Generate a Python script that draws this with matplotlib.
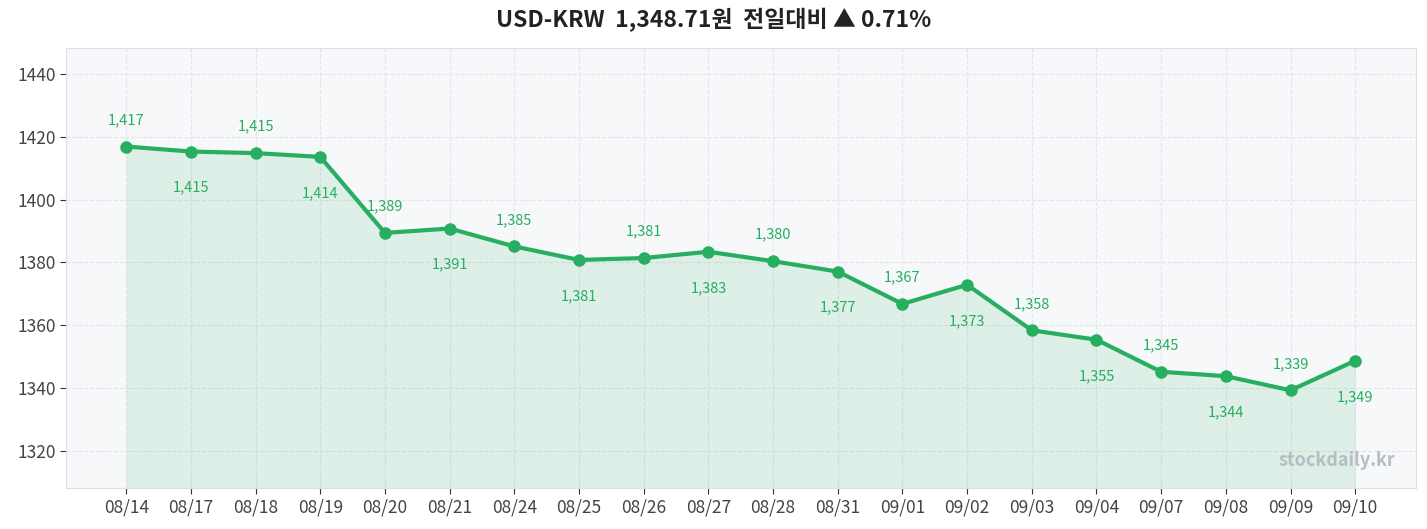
import numpy as np
import matplotlib.pyplot as plt

plt.rcParams['font.family'] = ['Noto Sans CJK KR', 'DejaVu Sans']

# 날짜 / 환율
dates = ['08/14', '08/17', '08/18', '08/19', '08/20', '08/21', '08/24', '08/25', '08/26', '08/27',
         '08/28', '08/31', '09/01', '09/02', '09/03', '09/04', '09/07', '09/08', '09/09', '09/10']
rates = [1416.9, 1415.3, 1414.8, 1413.6, 1389.4, 1390.8, 1385.1, 1380.8, 1381.4, 1383.4,
         1380.4, 1377.1, 1366.8, 1372.9, 1358.4, 1355.4, 1345.2, 1343.8, 1339.3, 1348.71]
yticks = [1320, 1340, 1360, 1380, 1400, 1420, 1440]

green = '#27ae60'
x = np.arange(len(dates))
ymin, ymax = 1308.2, 1448.3

fig = plt.figure(figsize=(14.27, 5.29), dpi=100)
ax = fig.add_axes([0.0463, 0.0775, 0.946, 0.832])
ax.set_facecolor('#f7f8fa')

ax.fill_between(x, rates, ymin, color=green, alpha=0.12, linewidth=0)
ax.plot(x, rates, color=green, linewidth=3, marker='o', markersize=8, zorder=3)

for i, v in enumerate(rates):
    dy = 19 if i % 2 == 0 else -26
    ax.annotate(f'{round(v):,}', (i, v), xytext=(0, dy), textcoords='offset points',
                ha='center', va='center', color=green, fontsize=10.5)

ax.set_xlim(-0.93, 19.94)
ax.set_ylim(ymin, ymax)
ax.set_xticks(x)
ax.set_xticklabels(dates)
ax.set_yticks(yticks)
ax.tick_params(labelsize=12.5, colors='#333333', labelcolor='#444444', length=4)
ax.grid(True, linestyle='--', color='#e3e5ea', linewidth=0.8)
ax.set_axisbelow(True)
for s in ax.spines.values():
    s.set_color('#dcdfe6')

ax.text(0.985, 0.04, 'stockdaily.kr', transform=ax.transAxes, ha='right', va='bottom',
        fontsize=13, color='#b8bcc4', fontweight='bold')

fig.suptitle('USD-KRW  1,348.71원  전일대비 ▲ 0.71%', y=0.985, fontsize=16.5,
             fontweight='bold', color='#222222')

plt.savefig('out.png')
